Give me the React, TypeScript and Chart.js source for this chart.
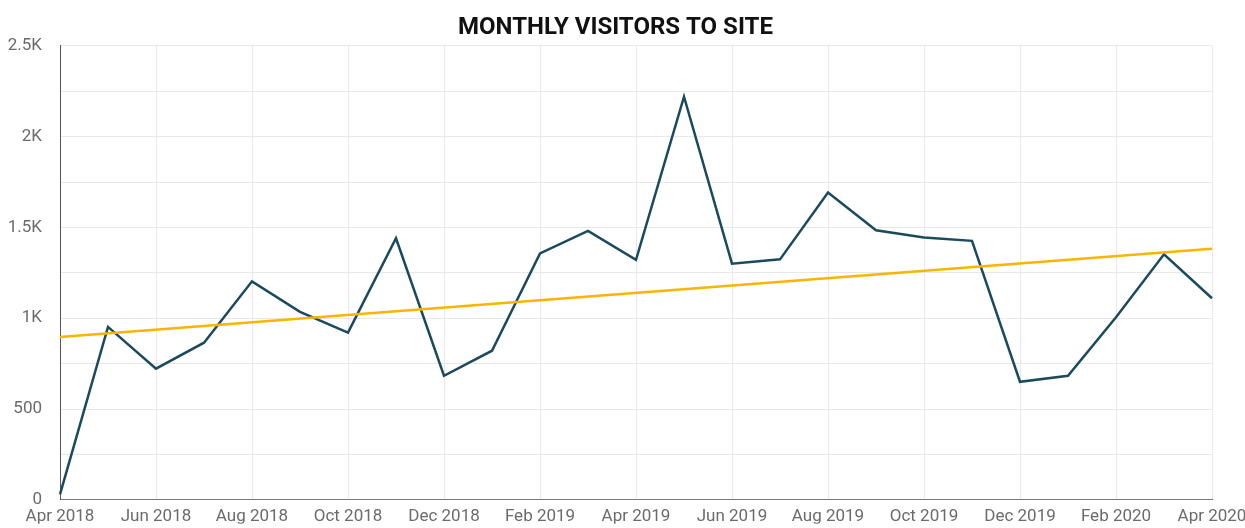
import React, { useEffect, useRef } from "react";
import { Chart, registerables } from "chart.js";

Chart.register(...registerables);

const months: string[] = [
  "Apr 2018", "May 2018", "Jun 2018", "Jul 2018", "Aug 2018", "Sep 2018",
  "Oct 2018", "Nov 2018", "Dec 2018", "Jan 2019", "Feb 2019", "Mar 2019",
  "Apr 2019", "May 2019", "Jun 2019", "Jul 2019", "Aug 2019", "Sep 2019",
  "Oct 2019", "Nov 2019", "Dec 2019", "Jan 2020", "Feb 2020", "Mar 2020",
  "Apr 2020",
];

const visitors: number[] = [
  30, 952, 722, 865, 1203, 1035, 921, 1440, 683, 821, 1357, 1481,
  1321, 2220, 1300, 1324, 1692, 1484, 1445, 1426, 650, 683, 1005, 1352,
  1110,
];

// Trend line endpoints (first and last month)
const trendStart = 897;
const trendEnd = 1383;

const title = "MONTHLY VISITORS TO SITE";

function fmtK(v: number): string {
  if (v === 0) return "0";
  if (v < 1000) return String(v);
  return v / 1000 + "K";
}

export default function App() {
  const canvasRef = useRef<HTMLCanvasElement | null>(null);

  useEffect(() => {
    if (!canvasRef.current) return;
    const trend: (number | null)[] = months.map((_, i) =>
      i === 0 ? trendStart : i === months.length - 1 ? trendEnd : null
    );
    const chart = new Chart(canvasRef.current, {
      type: "line",
      data: {
        labels: months,
        datasets: [
          {
            label: "Visitors",
            data: visitors,
            borderColor: "#1b4a5f",
            borderWidth: 2.5,
            pointRadius: 0,
            tension: 0,
            fill: false,
            order: 2,
          },
          {
            label: "Trend",
            data: trend,
            borderColor: "#fbb400",
            borderWidth: 2.5,
            pointRadius: 0,
            spanGaps: true,
            fill: false,
            order: 1,
          },
        ],
      },
      options: {
        animation: false,
        responsive: true,
        maintainAspectRatio: false,
        layout: { padding: { left: 0, right: 14, top: 0, bottom: 0 } },
        plugins: {
          legend: { display: false },
          tooltip: { enabled: false },
          title: {
            display: true,
            text: title,
            color: "#111111",
            font: { family: "Roboto", size: 24, weight: "bold" },
            padding: { top: 14, bottom: 3 },
          },
        },
        scales: {
          x: {
            type: "category",
            offset: false,
            grid: { color: "#e8e8e8", lineWidth: 1, drawTicks: false },
            border: { display: true, color: "#777777", width: 1 },
            ticks: {
              autoSkip: false,
              maxRotation: 0,
              padding: 7,
              color: "#6b6b6b",
              font: { family: "Roboto", size: 17 },
              callback: (_v: any, i: number) => (i % 2 === 0 ? months[i] : null),
            },
            afterFit: (scale: any) => {
              scale.height = 24;
              scale.paddingLeft = 0;
              scale.paddingRight = 33;
            },
          },
          y: {
            min: 0,
            max: 2500,
            grid: { color: "#e8e8e8", lineWidth: 1, drawTicks: false },
            border: { display: true, color: "#555555", width: 1 },
            ticks: {
              stepSize: 250,
              padding: 18,
              color: "#6b6b6b",
              font: { family: "Roboto", size: 17 },
              callback: (v: any) => (Number(v) % 500 === 0 ? fmtK(Number(v)) : ""),
            },
            afterFit: (scale: any) => {
              scale.width = 60;
            },
          },
        },
      },
    });
    return () => chart.destroy();
  }, []);

  return (
    <div style={{ position: "fixed", left: 0, top: 0, width: 1245, height: 528, background: "#ffffff" }}>
      <canvas ref={canvasRef} />
    </div>
  );
}
